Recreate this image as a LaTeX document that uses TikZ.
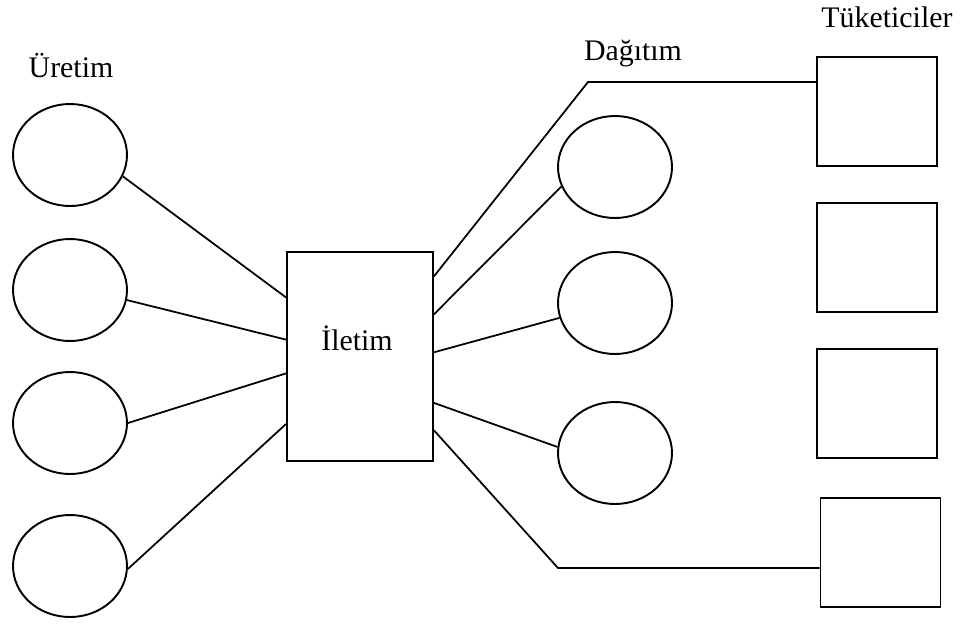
\documentclass[tikz,border=0pt]{standalone}
\usepackage{fontspec}
\setmainfont{Liberation Serif}
\usepackage{tikz}
\usetikzlibrary{positioning,calc,shapes.geometric}
\tikzset{
  plant/.style={draw,ellipse,line width=1.1pt,minimum width=2.28cm,minimum height=2.04cm,inner sep=0pt},
  load/.style={draw,rectangle,line width=1.1pt,minimum width=2.4cm,minimum height=2.18cm,inner sep=0pt},
  grid/.style={draw,rectangle,line width=1.1pt,minimum width=2.92cm,minimum height=4.18cm,inner sep=0pt},
  lbl/.style={font=\fontsize{17}{20}\selectfont,anchor=base,inner sep=0pt},
  wire/.style={line width=1pt},
}
% point at fraction #2 down the west/east side of node #1
\newcommand{\lside}[2]{($(#1.north west)!#2!(#1.south west)$)}
\newcommand{\rside}[2]{($(#1.north east)!#2!(#1.south east)$)}

\begin{document}
\begin{tikzpicture}[x=0.02cm,y=-0.02cm]
\useasboundingbox (0,0) rectangle (967,623);
% generation
\node[plant] (u1) at (70,155) {};
\node[plant] (u2) at (70,290) {};
\node[plant] (u3) at (70,423) {};
\node[plant] (u4) at (70,566) {};
\node[lbl] (uret) at (71,77) {Üretim};
% transmission
\node[grid] (ilt) at (360,356.5) {};
\node[lbl] (iltlbl) at (357,350) {İletim};
% distribution
\node[plant] (d1) at (615,167) {};
\node[plant] (d2) at (615,303) {};
\node[plant] (d3) at (615,453) {};
\node[lbl] (dag) at (633,60) {Dağıtım};
% consumers
\node[load] (k1) at (877,111.5) {};
\node[load] (k2) at (877,257.5) {};
\node[load] (k3) at (877,403.5) {};
\node[load] (k4) at (880.5,552.5) {};
\node[lbl] (tuk) at (887,27) {Tüketiciler};
\coordinate (b1) at (588,82);
\coordinate (b2) at (558,568);

\draw[wire] (u1.-22) -- \lside{ilt}{0.22};
\draw[wire] (u2.-10) -- \lside{ilt}{0.42};
\draw[wire] (u3.east) -- \lside{ilt}{0.58};
\draw[wire] (u4.-3) -- \lside{ilt}{0.82};

\draw[wire] \rside{ilt}{0.12} -- (b1) -- (b1 -| k1.west);
\draw[wire] \rside{ilt}{0.30} -- (d1.200);
\draw[wire] \rside{ilt}{0.48} -- (d2.195);
\draw[wire] \rside{ilt}{0.72} -- (d3.174);
\draw[wire] \rside{ilt}{0.85} -- (b2) -- (b2 -| k4.west);
\end{tikzpicture}
\end{document}
